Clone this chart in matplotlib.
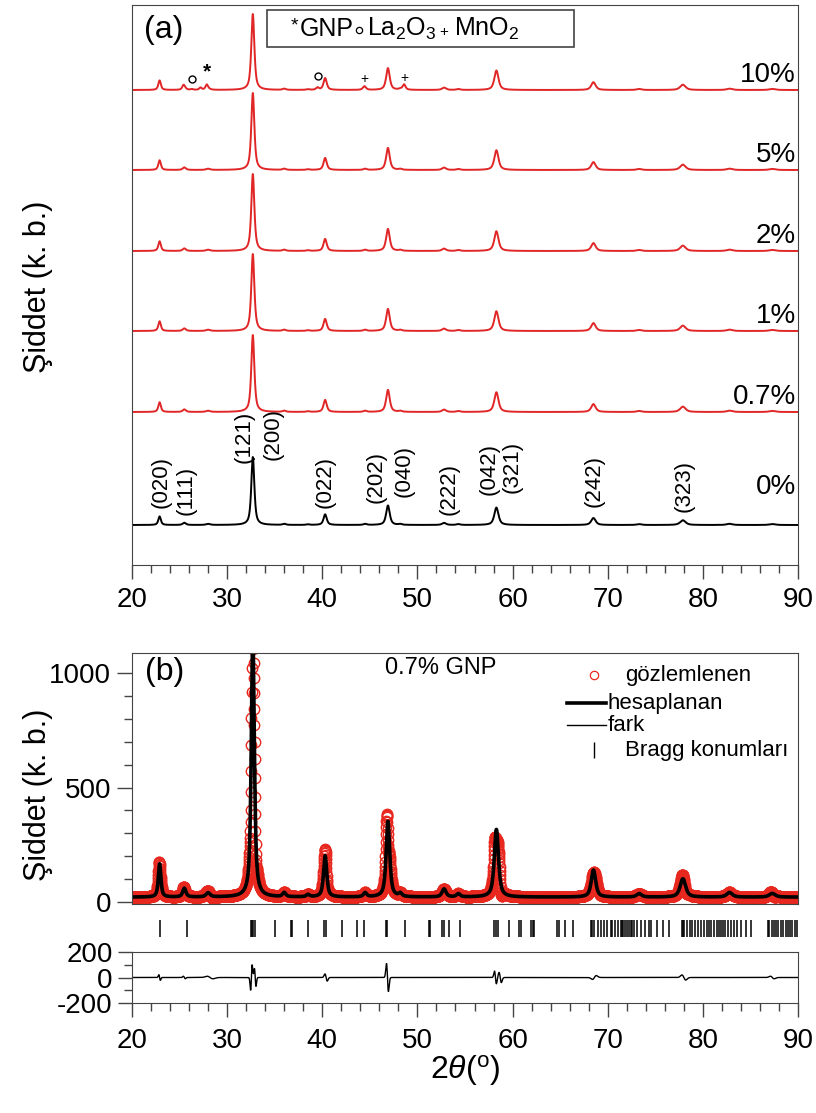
import numpy as np
import matplotlib
matplotlib.use('Agg')
import matplotlib.pyplot as plt
from matplotlib.patches import Rectangle
from matplotlib.lines import Line2D
from matplotlib.ticker import MultipleLocator, FixedLocator, FixedFormatter

plt.rcParams['font.family'] = ['Liberation Sans', 'DejaVu Sans']
plt.rcParams['mathtext.fontset'] = 'custom'
plt.rcParams['mathtext.rm'] = 'Liberation Sans'
plt.rcParams['mathtext.it'] = 'Liberation Sans:italic'
plt.rcParams['axes.unicode_minus'] = False

# ------------------------------------------------------------------ data
two_theta_min, two_theta_max, two_theta_step = 20.0, 90.0, 0.02

# perovskite reflections: position, counts (0.7% refinement), FWHM
peak_pos = [22.9, 25.5, 28.0, 32.7, 36.0, 38.5, 40.3, 44.5, 46.9, 48.2, 52.8, 54.3,
            58.3, 68.5, 73.3, 77.9, 82.8, 87.3]
peak_counts = [145, 38, 18, 1150, 18, 10, 180, 18, 330, 14, 35, 14,
               295, 118, 15, 80, 20, 16]
peak_fwhm = [0.32, 0.4, 0.5, 0.38, 0.4, 0.4, 0.4, 0.4, 0.45, 0.4, 0.5, 0.45,
             0.52, 0.55, 0.6, 0.68, 0.7, 0.75]
background_counts = 22

# extra (impurity) reflections seen only in the 10% sample
impurity_pos = [25.4, 26.3, 27.2, 27.85, 39.5, 44.4, 48.6]
impurity_rel = [0.04, 0.01, 0.03, 0.06, 0.03, 0.035, 0.07]
impurity_fwhm = [0.3, 0.3, 0.3, 0.3, 0.35, 0.35, 0.35]

# stacked patterns of panel (a)
sample_labels = ['0%', '0.7%', '1%', '2%', '5%', '10%']
sample_offsets = [40, 153, 234, 314, 395, 475]
sample_heights = [68, 77, 77, 77, 77, 76]
sample_colors = ['black', '#e02626', '#e02626', '#e02626', '#e02626', '#e02626']

# Miller indices labelled on the 0% pattern
hkl_labels = ['(020)', '(111)', '(121)', '(200)', '(022)', '(202)', '(040)', '(222)',
              '(042)', '(321)', '(242)', '(323)']
hkl_x = [23.1, 25.7, 31.8, 34.8, 40.25, 45.7, 48.65, 53.35, 57.5, 60.0, 68.55, 78.0]
hkl_y = [57, 50, 102, 105, 57, 62, 68, 50, 70, 72, 58, 53]

# phase markers above the 10% pattern
phase_symbols = ['o', '*', 'o', '+', '+']
phase_x = [26.3, 27.9, 39.5, 44.4, 48.6]
phase_y = [486, 493, 489, 486, 487]

# residual (obs - calc) features: position, amplitude, width
diff_pos = [22.9, 25.5, 28.2, 32.55, 32.95, 40.4, 46.85, 58.2, 58.7, 68.6, 78.0, 87.3]
diff_amp = [22, 10, 10, -100, 70, 28, 110, 50, 40, -15, 20, 10]
diff_w = [0.08, 0.1, 0.3, 0.08, 0.08, 0.12, 0.1, 0.1, 0.12, 0.2, 0.2, 0.2]

# Bragg positions
bragg_pos = [22.9, 25.73, 32.5, 32.62, 32.72, 32.9, 35.0, 36.7, 36.78, 38.52, 40.2, 40.34,
             42.03, 43.63, 44.36, 46.7, 46.83, 48.65, 51.2, 51.3, 52.6, 52.76, 53.36,
             54.5, 58.1, 58.29, 58.45, 59.61, 60.7, 60.89, 61.9, 62.1, 62.26, 64.7,
             64.85, 65.46, 66.37,
             68.2, 68.4, 68.6, 69.0, 69.3, 69.6, 69.9, 70.3, 70.5, 70.8, 71.1, 71.4,
             71.5, 71.6, 71.8, 72.0, 72.2, 72.4, 72.6, 72.8, 73.1, 73.5, 73.9, 74.3,
             74.6, 75.2, 75.8, 76.4,
             77.8, 77.9, 78.0, 78.3, 78.6, 78.9, 79.2, 79.5, 79.8, 80.1, 80.4, 80.6,
             80.9, 81.2, 81.5, 81.7, 81.9, 82.1, 82.3, 82.6, 83.0, 83.3, 83.6, 84.0,
             84.5, 85.1,
             86.8, 87.0, 87.25, 87.5, 87.7, 87.95, 88.2, 88.45, 88.7, 88.9, 89.15,
             89.4, 89.65, 89.9]

legend_labels = ['gözlemlenen', 'hesaplanan', 'fark', 'Bragg konumları']

# ------------------------------------------------------------------ helpers
x = np.arange(two_theta_min, two_theta_max + 1e-9, two_theta_step)


def profile(pos, amp, fwhm, eta=0.7):
    y = np.zeros_like(x)
    for p, a, w in zip(pos, amp, fwhm):
        d = (x - p) / (w / 2.0)
        y += a * (eta / (1 + d ** 2) + (1 - eta) * np.exp(-np.log(2) * d ** 2))
    return y


def wiggle(pos, amp, w):
    y = np.zeros_like(x)
    for p, a, s in zip(pos, amp, w):
        d = (x - p) / s
        y += a * (-d) * np.exp(0.5 * (1 - d ** 2))
    return y


peak_rel = np.array(peak_counts) / max(peak_counts)
base_rel = profile(peak_pos, peak_rel, peak_fwhm)
imp_rel = profile(impurity_pos, impurity_rel, impurity_fwhm)

calc = background_counts + profile(peak_pos, peak_counts, peak_fwhm)
diff = wiggle(diff_pos, diff_amp, diff_w)
obs = calc + diff

# ------------------------------------------------------------------ figure
W, H = 816, 1113
fig = plt.figure(figsize=(W / 100, H / 100), dpi=100)


def axrect(l, t, r, b):
    return [l / W, 1 - b / H, (r - l) / W, (b - t) / H]


spine_col = '#444444'
tick_fs = 20

# ---------------- panel (a)
axa = fig.add_axes(axrect(132, 5, 798, 565))
for i, (lab, off, hgt, col) in enumerate(zip(sample_labels, sample_offsets,
                                              sample_heights, sample_colors)):
    y = base_rel.copy()
    if lab == '10%':
        y = y + imp_rel
    axa.plot(x, off + hgt * y, color=col, lw=1.4)
    dy = 38 if lab == '0%' else 15
    axa.text(89.8, off + dy, lab, ha='right', va='center', fontsize=20)

for lab, hx, hy in zip(hkl_labels, hkl_x, hkl_y):
    axa.text(hx, hy, lab, rotation=90, ha='center', va='bottom', fontsize=16)

for s, px, py in zip(phase_symbols, phase_x, phase_y):
    if s == 'o':
        axa.plot(px, py, marker='o', ms=5, mfc='none', mec='black', mew=1.0)
    elif s == '*':
        axa.text(px, py, '*', ha='center', va='center', fontsize=15, fontweight='bold')
    else:
        axa.text(px, py, '+', ha='center', va='center', fontsize=10)

axa.set_xlim(two_theta_min, two_theta_max)
axa.set_ylim(0, 560)
axa.set_yticks([])
axa.xaxis.set_major_locator(MultipleLocator(10))
axa.xaxis.set_minor_locator(MultipleLocator(2))
axa.tick_params(axis='x', which='major', direction='out', length=10, width=1,
                labelsize=tick_fs, color=spine_col, pad=6)
axa.tick_params(axis='x', which='minor', direction='out', length=6, width=1, color=spine_col)
for sp in axa.spines.values():
    sp.set_color(spine_col)
axa.text(0.018, 0.955, '(a)', transform=axa.transAxes, fontsize=23, va='center', ha='left')

# phase legend box
axa.add_patch(Rectangle((0.203, 0.925), 0.461, 0.066, transform=axa.transAxes,
                        fc='white', ec=spine_col, lw=1.2))
ly = 0.958
axa.text(0.244, ly + 0.004, '*', transform=axa.transAxes, fontsize=14, ha='center', va='center')
axa.text(0.252, ly, 'GNP', transform=axa.transAxes, fontsize=18, ha='left', va='center')
axa.add_line(Line2D([0.341], [ly - 0.002], transform=axa.transAxes, marker='o', ms=4.5,
                    mfc='none', mec='black', mew=0.9, ls='none'))
axa.text(0.353, ly, r'La$_2$O$_3$', transform=axa.transAxes, fontsize=18, ha='left',
         va='center')
axa.text(0.468, ly - 0.006, '+', transform=axa.transAxes, fontsize=11, ha='center',
         va='center')
axa.text(0.484, ly, r'MnO$_2$', transform=axa.transAxes, fontsize=18, ha='left', va='center')

# ---------------- panel (b) main
axb = fig.add_axes(axrect(132, 653, 798, 904))
axb.plot(x, obs, linestyle='none', marker='o', ms=7.5, mfc='none', mec='#e8281e', mew=1.0)
axb.plot(x, calc, color='black', lw=2.6)
axb.set_xlim(two_theta_min, two_theta_max)
axb.set_ylim(-8, 1087)
axb.set_xticks([])
axb.yaxis.set_major_locator(FixedLocator([0, 500, 1000]))
axb.yaxis.set_minor_locator(MultipleLocator(100))
axb.tick_params(axis='y', which='major', direction='out', length=11, width=1,
                labelsize=tick_fs, color=spine_col, pad=4)
axb.tick_params(axis='y', which='minor', direction='out', length=6, width=1, color=spine_col)
for sp in axb.spines.values():
    sp.set_color(spine_col)
axb.text(0.02, 0.925, '(b)', transform=axb.transAxes, fontsize=23, va='center', ha='left')
axb.text(0.38, 0.94, '0.7% GNP', transform=axb.transAxes, fontsize=17, va='center', ha='left')

# manual legend (Origin style)
leg_fs = 16
rows = [0.912, 0.80, 0.712, 0.612]
axb.add_line(Line2D([0.693], [rows[0]], transform=axb.transAxes, marker='o', ms=6,
                    mfc='none', mec='#e8281e', mew=0.9, ls='none'))
axb.add_line(Line2D([0.653, 0.712], [rows[1], rows[1]], transform=axb.transAxes,
                    color='black', lw=2.6))
axb.add_line(Line2D([0.653, 0.712], [rows[2], rows[2]], transform=axb.transAxes,
                    color='black', lw=1.0))
axb.add_line(Line2D([0.693], [rows[3]], transform=axb.transAxes, marker='|', ms=11,
                    mec='black', mew=1.0, ls='none'))
text_x = [0.740, 0.714, 0.714, 0.740]
for lab, tx, ty in zip(legend_labels, text_x, rows):
    axb.text(tx, ty, lab, transform=axb.transAxes, fontsize=leg_fs, va='center', ha='left')

# ---------------- Bragg ticks
axt = fig.add_axes(axrect(132, 920, 798, 937))
axt.vlines(bragg_pos, 0, 1, color='black', lw=1.1)
axt.set_xlim(two_theta_min, two_theta_max)
axt.set_ylim(0, 1)
axt.axis('off')

# ---------------- difference
axd = fig.add_axes(axrect(132, 952, 798, 1003))
axd.plot(x, diff, color='black', lw=1.0)
axd.set_xlim(two_theta_min, two_theta_max)
axd.set_ylim(-200, 200)
axd.yaxis.set_major_locator(FixedLocator([-200, 0, 200]))
axd.yaxis.set_major_formatter(FixedFormatter(['-200', '0', '200']))
axd.yaxis.set_minor_locator(FixedLocator([-100, 100]))
axd.xaxis.set_major_locator(MultipleLocator(10))
axd.xaxis.set_minor_locator(MultipleLocator(2))
axd.tick_params(axis='both', which='major', direction='out', length=10, width=1,
                labelsize=tick_fs, color=spine_col, pad=4)
axd.tick_params(axis='both', which='minor', direction='out', length=6, width=1, color=spine_col)
axd.tick_params(axis='x', pad=8)
for sp in axd.spines.values():
    sp.set_color(spine_col)

# ---------------- axis labels
fig.text(38 / W, 1 - 287 / H, 'Şiddet (k. b.)', rotation=90, ha='center', va='center',
         fontsize=22)
fig.text(38 / W, 1 - 795 / H, 'Şiddet (k. b.)', rotation=90, ha='center', va='center',
         fontsize=22)
fig.text(465 / W, 1 - 1070 / H, r'2$\it{\theta}$($^{\rm o}$)', ha='center', va='center',
         fontsize=23)

fig.savefig('out.png', dpi=100)
